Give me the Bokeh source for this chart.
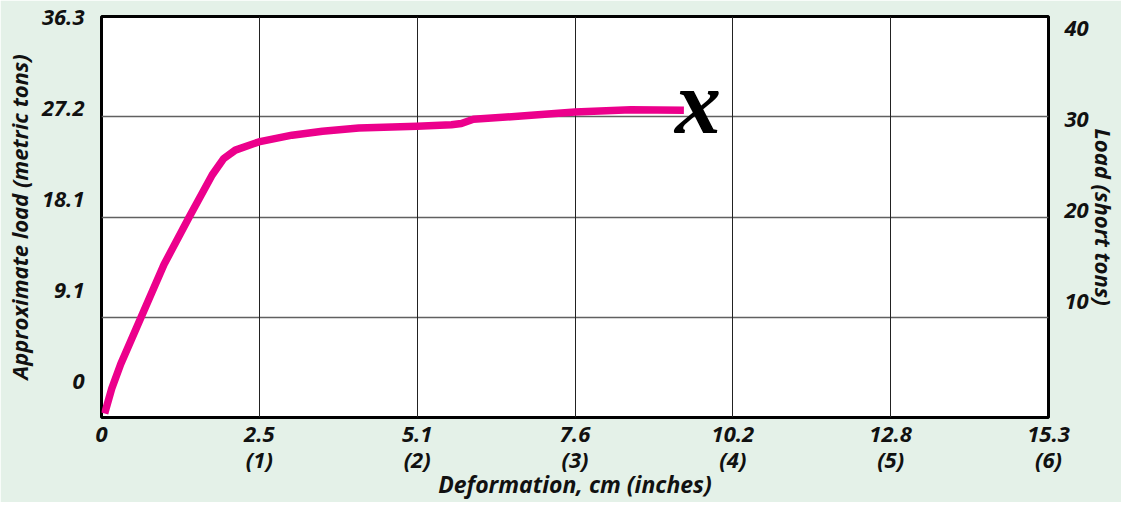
from bokeh.plotting import figure
from bokeh.models import Range1d, LinearAxis, FixedTicker, Grid, ColumnDataSource
from bokeh.embed import file_html
from bokeh.resources import INLINE
from bokeh.core.properties import value

# Deformation in inches, load in short tons
deform_in = [0.02, 0.065, 0.122, 0.248, 0.396, 0.554, 0.701, 0.775, 0.848, 0.996,
             1.207, 1.4, 1.63, 2.0, 2.217, 2.28, 2.356, 2.723, 3.0, 3.354, 3.69]
load_short = [0.4, 2.9, 5.33, 9.9, 15.26, 19.95, 24.19, 25.84, 26.67, 27.49,
              28.16, 28.55, 28.88, 29.05, 29.21, 29.33, 29.75, 30.14, 30.47, 30.7, 30.64]

x_ticks_in = [0, 1, 2, 3, 4, 5, 6]
x_tick_cm = ["0", "2.5", "5.1", "7.6", "10.2", "12.8", "15.3"]
x_tick_inch = ["", "(1)", "(2)", "(3)", "(4)", "(5)", "(6)"]

metric_ticks = [0, 9.1, 18.1, 27.2, 36.3]
metric_labels = ["0", "9.1", "18.1", "27.2", "36.3"]
short_ticks = [10, 20, 30, 40]
short_labels = ["10", "20", "30", "40"]
grid_short = [10, 20, 30]

x_title = "Deformation, cm (inches)"
y_title_left = "Approximate load (metric tons)"
y_title_right = "Load (short tons)"

FONT = "Open Sans"
PINK = "#EC008C"
BG = "#e4f1e8"
INK = "#111111"

p = figure(width=1121, height=502, output_backend="svg", toolbar_location=None,
           x_range=Range1d(0, 6), y_range=Range1d(0, 40),
           x_axis_location=None, y_axis_location=None,
           background_fill_color="white", border_fill_color=BG,
           min_border_left=101, min_border_right=71, min_border_top=16,
           min_border_bottom=83)
p.outline_line_color = "black"
p.outline_line_width = 3
for g in p.select(type=Grid):
    g.visible = False

p.extra_y_ranges = {"lbl_left": Range1d(-3.6, 36.4), "lbl_right": Range1d(-2.5, 37.5)}

def style_axis(ax, size="22px", title_size="22px"):
    ax.axis_line_color = None
    ax.major_tick_line_color = None
    ax.minor_tick_line_color = None
    ax.major_label_text_font = FONT
    ax.major_label_text_font_style = "bold italic"
    ax.major_label_text_font_size = size
    ax.major_label_text_color = INK
    ax.axis_label_text_font = FONT
    ax.axis_label_text_font_style = "bold italic"
    ax.axis_label_text_font_size = title_size
    ax.axis_label_text_color = INK

xa = LinearAxis(ticker=FixedTicker(ticks=x_ticks_in))
xa.major_label_overrides = {t: c for t, c in zip(x_ticks_in, x_tick_cm)}
style_axis(xa)
xa.major_label_standoff = 3
p.add_layout(xa, "below")

xb = LinearAxis(ticker=FixedTicker(ticks=x_ticks_in[1:]))
xb.major_label_overrides = {t: i for t, i in zip(x_ticks_in[1:], x_tick_inch[1:])}
xb.axis_label = x_title
style_axis(xb, title_size="23px")
xb.major_label_standoff = -7
xb.axis_label_standoff = -9
p.add_layout(xb, "below")

ya = LinearAxis(y_range_name="lbl_left", ticker=FixedTicker(ticks=metric_ticks))
ya.major_label_overrides = {t: l for t, l in zip(metric_ticks, metric_labels)}
ya.axis_label = y_title_left
style_axis(ya)
ya.major_label_standoff = 11
ya.axis_label_standoff = 5
p.add_layout(ya, "left")

right_pos = [round(s * 0.9072, 2) for s in short_ticks]
yr = LinearAxis(y_range_name="lbl_right", ticker=FixedTicker(ticks=right_pos))
yr.major_label_overrides = {t: l for t, l in zip(right_pos, short_labels)}
yr.axis_label = y_title_right
style_axis(yr)
yr.major_label_standoff = 10
yr.axis_label_standoff = -3
p.add_layout(yr, "right")

p.add_layout(Grid(dimension=1, ticker=FixedTicker(ticks=grid_short),
                  grid_line_color="#606060", grid_line_width=1.5))
p.add_layout(Grid(dimension=0, ticker=FixedTicker(ticks=x_ticks_in[1:-1]),
                  grid_line_color="#222222", grid_line_width=1))

src = ColumnDataSource(dict(x=deform_in, y=load_short))
p.line("x", "y", source=src, line_color=PINK, line_width=7.5, line_cap="butt",
       line_join="round")

p.text(x=[deform_in[-1]], y=[load_short[-1]], text=["x"], x_offset=14, y_offset=-8,
       text_font=value("Liberation Serif"), text_font_style="bold italic",
       text_font_size="92px", text_align="center", text_baseline="middle",
       text_color="black")

open("out.html", "w").write(file_html(p, INLINE))
